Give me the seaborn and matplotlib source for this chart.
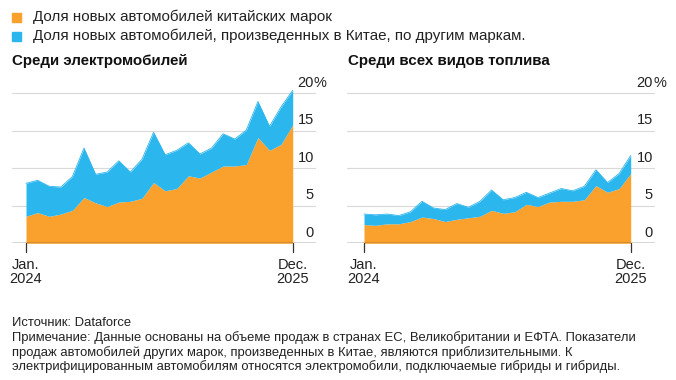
import matplotlib
matplotlib.use("Agg")
import matplotlib.pyplot as plt
import matplotlib.transforms as mtransforms
import seaborn as sns
import numpy as np
import pandas as pd

months = pd.date_range("2024-01-01", "2025-12-01", freq="MS")
x_labels = {0: "Jan.\n2024", 23: "Dec.\n2025"}

# Among electrified cars (share, %)
ev_chinese_brands = [3.6, 4.1, 3.6, 3.9, 4.4, 6.1, 5.4, 4.9, 5.5, 5.6, 6.0, 8.1,
                     7.0, 7.3, 9.0, 8.7, 9.5, 10.3, 10.3, 10.5, 14.1, 12.4, 13.2, 15.8]
ev_total = [8.0, 8.4, 7.6, 7.5, 8.9, 12.7, 9.2, 9.5, 11.0, 9.5, 11.2, 14.8,
            11.8, 12.4, 13.4, 11.9, 12.7, 14.6, 13.9, 15.1, 18.9, 15.6, 18.2, 20.4]
# Among all fuel types (share, %)
all_chinese_brands = [2.5, 2.4, 2.6, 2.6, 2.9, 3.5, 3.3, 2.9, 3.2, 3.4, 3.6, 4.4,
                      4.0, 4.2, 5.2, 4.9, 5.5, 5.6, 5.6, 5.8, 7.7, 6.8, 7.3, 9.3]
all_total = [3.9, 3.8, 3.9, 3.7, 4.2, 5.6, 4.7, 4.5, 5.3, 4.8, 5.6, 7.1,
             5.8, 6.1, 6.8, 6.1, 6.7, 7.3, 7.0, 7.6, 9.8, 8.1, 9.3, 11.7]

y_ticks = [0, 5, 10, 15, 20]
titles = ["Среди электромобилей", "Среди всех видов топлива"]
legend_labels = ["Доля новых автомобилей китайских марок",
                 "Доля новых автомобилей, произведенных в Китае, по другим маркам."]
footer = ("Источник: Dataforce\n"
          "Примечание: Данные основаны на объеме продаж в странах ЕС, Великобритании и ЕФТА. Показатели\n"
          "продаж автомобилей других марок, произведенных в Китае, являются приблизительными. К\n"
          "электрифицированным автомобилям относятся электромобили, подключаемые гибриды и гибриды.")

ORANGE = "#F9A12C"
BLUE = "#2CB6EE"
TEXT = "#222222"

sns.set_theme(style="white")
plt.rcParams["font.family"] = ["Liberation Sans", "DejaVu Sans"]

W, H = 676, 380
fig = plt.figure(figsize=(W / 100, H / 100), dpi=100)
fig.patch.set_facecolor("white")

def px_axes(x0, x1, ybase, ytop):
    return fig.add_axes([x0 / W, (H - ybase) / H, (x1 - x0) / W, (ybase - ytop) / H])

px_per_unit = 7.5
ymax = 22
panels = [
    dict(x0=12, x1=316, jan=26, dec=292.7, label_x=314, chinese=ev_chinese_brands, total=ev_total, title_x=12),
    dict(x0=347, x1=655, jan=364, dec=630.7, label_x=653, chinese=all_chinese_brands, total=all_total, title_x=348),
]
ybase = 243.3
ytop = ybase - ymax * px_per_unit

for p, title in zip(panels, titles):
    ax = px_axes(p["x0"], p["x1"], ybase, ytop)
    step = (p["dec"] - p["jan"]) / 23
    xl = -(p["jan"] - p["x0"]) / step
    xr = 23 + (p["x1"] - p["dec"]) / step
    df = pd.DataFrame({"i": np.arange(len(months)), "chinese": p["chinese"], "total": p["total"]})
    df["other"] = df["total"] - df["chinese"]
    ax.stackplot(df["i"], df["chinese"], df["other"], colors=[ORANGE, BLUE], linewidth=0)
    sns.lineplot(x=df["i"], y=df["total"], ax=ax, color=BLUE, linewidth=0.6)
    ax.set_xlim(xl, xr)
    ax.set_ylim(0, ymax)
    for v in y_ticks[1:]:
        ax.axhline(v, color="#d9d9d9", linewidth=0.8, zorder=0)
    ax.axhline(0, color="#333333", linewidth=1.0, zorder=5)
    for s in ax.spines.values():
        s.set_visible(False)
    ax.set_yticks([])
    ax.set_xticks([])
    ax.set_xlabel("")
    ax.set_ylabel("")
    ax.patch.set_alpha(0)
    # x ticks
    for i, lab in x_labels.items():
        ax.plot([i, i], [0, -1.2], color="#333333", linewidth=0.9, clip_on=False, zorder=6)
        ax.text(i, -1.95, lab, ha="center", va="top", fontsize=10.5, color=TEXT,
                linespacing=1.05)
    # y labels
    tr = mtransforms.blended_transform_factory(ax.transAxes, ax.transData)
    lxf = (p["label_x"] - p["x0"]) / (p["x1"] - p["x0"])
    for v in y_ticks:
        ax.text(lxf, v + 0.85, str(v), transform=tr,
                ha="right", va="baseline", fontsize=10.5, color=TEXT)
    ax.text(lxf, 20.85, "%", transform=tr,
            ha="left", va="baseline", fontsize=10.5, color=TEXT)
    fig.text(p["title_x"] / W, 1 - 60.5 / H, title, ha="left", va="center",
             fontsize=10.9, fontweight="bold", color="#111111")

# legend
for k, (lab, col) in enumerate(zip(legend_labels, [ORANGE, BLUE])):
    yc = 17 + 19 * k
    fig.patches.append(plt.Rectangle((12 / W, 1 - (yc + 4.5) / H), 9 / W, 9 / H,
                                     transform=fig.transFigure, color=col, figure=fig))
    fig.text(33 / W, 1 - yc / H, lab, ha="left", va="center", fontsize=10.9,
             color=TEXT)

fig.text(12 / W, 1 - 317.5 / H, footer, ha="left", va="top", fontsize=9.4,
         color=TEXT, linespacing=1.17)

fig.savefig("out.png", dpi=100, facecolor="white")
